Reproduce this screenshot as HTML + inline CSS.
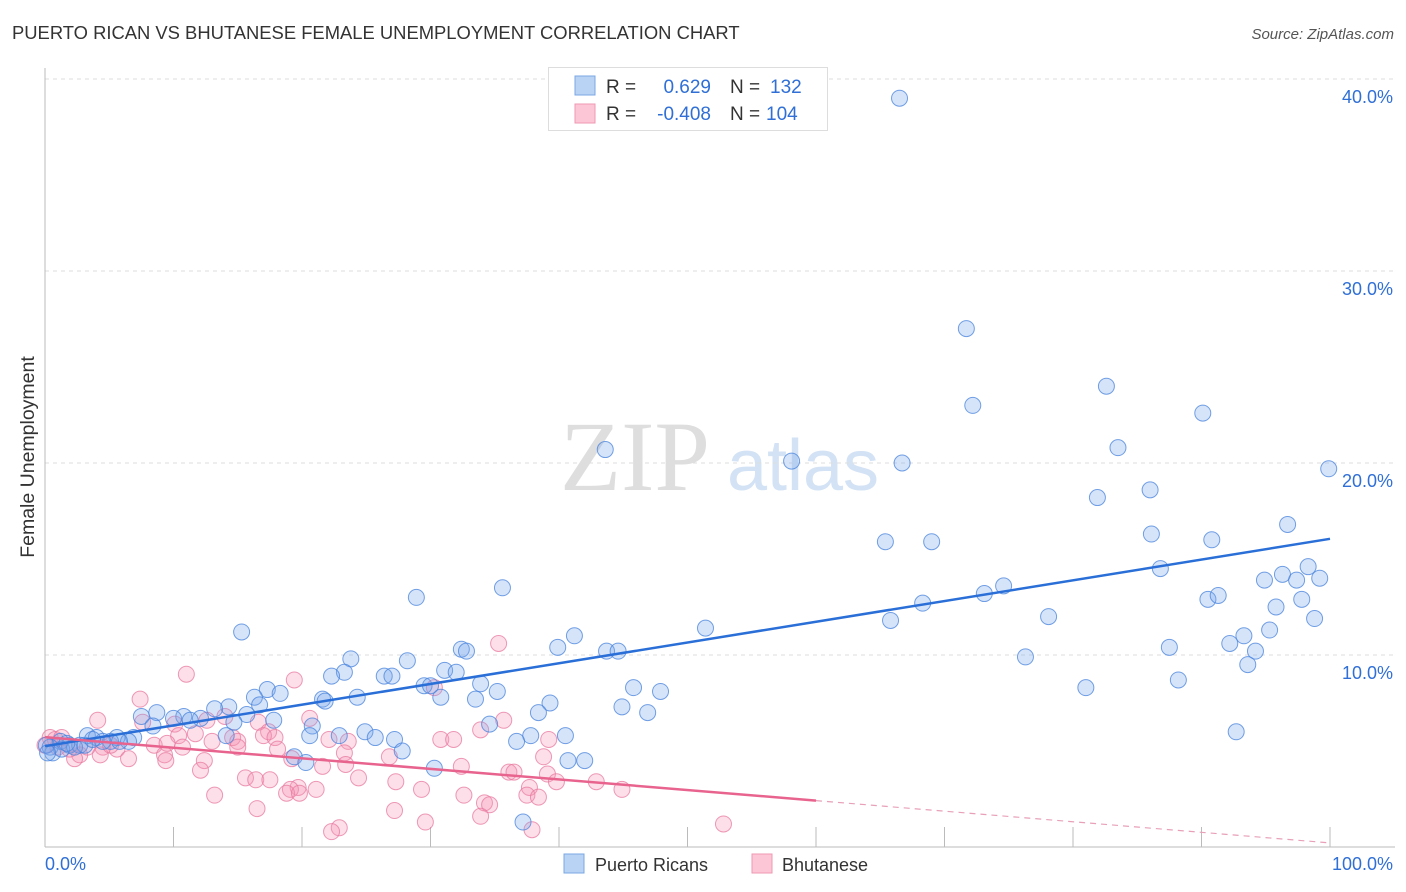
<!DOCTYPE html>
<html><head><meta charset="utf-8"><style>
body{margin:0;background:#fff;font-family:"Liberation Sans",sans-serif}
svg{display:block}
</style></head><body>
<svg id="chart" width="1406" height="892">
<text x="12" y="39" font-size="18.4" fill="#333">PUERTO RICAN VS BHUTANESE FEMALE UNEMPLOYMENT CORRELATION CHART</text>
<text x="1394" y="39" font-size="15" fill="#555" font-style="italic" text-anchor="end">Source: ZipAtlas.com</text>
<text x="0" y="0" transform="translate(34,457) rotate(-90)" font-size="19.5" fill="#333" text-anchor="middle">Female Unemployment</text>
<g>
<text x="635" y="490" font-size="100" fill="#dedede" font-family="Liberation Serif" text-anchor="middle">ZIP</text>
<text x="803" y="490" font-size="72" fill="#d3e2f4" text-anchor="middle">atlas</text>
</g>
<g id="grid"></g><g id="axes"></g><g id="pts"></g><g id="trend"></g>
<g>
<rect x="548.5" y="67.5" width="279" height="63" fill="#fff" stroke="#ddd"/>
<rect x="575" y="76" width="20" height="19" fill="#b9d3f5" stroke="#7aa7e4"/>
<rect x="575" y="104" width="20" height="19" fill="#fcc6d6" stroke="#ef98b3"/>
<text x="606" y="93" font-size="19" fill="#333">R =</text>
<text x="711" y="93" font-size="19" fill="#2f6fd6" text-anchor="end">0.629</text>
<text x="730" y="93" font-size="19" fill="#333">N =</text>
<text x="770" y="93" font-size="19" fill="#2f6fd6">132</text>
<text x="606" y="120" font-size="19" fill="#333">R =</text>
<text x="711" y="120" font-size="19" fill="#2f6fd6" text-anchor="end">-0.408</text>
<text x="730" y="120" font-size="19" fill="#333">N =</text>
<text x="766" y="120" font-size="19" fill="#2f6fd6">104</text>
</g>
<g>
<rect x="564" y="854" width="20" height="19" fill="#b9d3f5" stroke="#7aa7e4"/>
<text x="595" y="871" font-size="18" fill="#333">Puerto Ricans</text>
<rect x="752" y="854" width="20" height="19" fill="#fcc6d6" stroke="#ef98b3"/>
<text x="782" y="871" font-size="18" fill="#333">Bhutanese</text>
</g>
</svg>
<script>
const yTicks=[10,20,30,40];
const yTickLabels=["10.0%","20.0%","30.0%","40.0%"];
const xTickLabels=["0.0%","100.0%"];
const blueX=[66.5,71.7,72.2,82.6,90.1,83.5,43.6,58.1,66.7,99.9,86.0,81.9,96.7,86.1,65.4,69.0,90.8,86.8,98.3,96.3,94.9,97.4,99.2,74.6,73.1,90.5,91.3,97.8,68.3,95.8,78.1,65.8,98.8,95.3,93.3,92.2,94.2,87.5,76.3,93.6,88.2,81.0,92.7,35.6,28.9,51.4,41.2,15.3,39.9,43.7,44.6,32.4,32.8,23.8,28.2,31.1,32.0,23.3,26.4,27.0,22.3,33.9,29.5,30.0,45.8,17.3,18.3,30.8,35.2,47.9,24.3,21.6,16.3,33.5,21.8,39.3,14.3,13.2,16.7,44.9,46.9,38.4,15.7,8.7,10.8,10.0,7.5,17.8,12.1,11.3,14.7,20.8,34.6,8.4,3.3,5.6,4.0,6.9,14.1,20.6,22.9,24.9,25.7,27.2,37.8,40.5,36.7,27.8,19.4,20.3,40.7,42.0,30.3,37.2,1.2,1.9,0.4,2.7,0.6,5.1,6.5,4.5,1.3,2.3,3.1,3.7,5.8,1.7,0.1,0.2];
const blueY=[39.0,27.0,23.0,24.0,22.6,20.8,20.7,20.1,20.0,19.7,18.6,18.2,16.8,16.3,15.9,15.9,16.0,14.5,14.6,14.2,13.9,13.9,14.0,13.6,13.2,12.9,13.1,12.9,12.7,12.5,12.0,11.8,11.9,11.3,11.0,10.6,10.2,10.4,9.9,9.5,8.7,8.3,6.0,13.5,13.0,11.4,11.0,11.2,10.4,10.2,10.2,10.3,10.2,9.8,9.7,9.2,9.1,9.1,8.9,8.9,8.9,8.5,8.4,8.4,8.3,8.2,8.0,7.8,8.1,8.1,7.8,7.7,7.8,7.7,7.6,7.5,7.3,7.2,7.4,7.3,7.0,7.0,6.9,7.0,6.8,6.7,6.8,6.6,6.7,6.6,6.5,6.3,6.4,6.3,5.8,5.7,5.7,5.7,5.8,5.8,5.8,6.0,5.7,5.6,5.8,5.8,5.5,5.0,4.7,4.4,4.5,4.5,4.1,1.3,5.5,5.3,5.2,5.3,4.9,5.5,5.5,5.5,5.1,5.2,5.3,5.6,5.5,5.4,5.3,4.9];
const pinkX=[35.3,11.0,19.4,30.3,7.4,4.1,20.6,14.0,16.6,7.6,12.6,10.1,35.7,33.9,17.4,10.4,11.7,14.6,15.0,17.0,17.9,22.1,23.6,30.8,31.8,39.2,13.0,8.5,9.5,10.7,15.0,18.1,23.3,4.5,5.6,4.3,2.7,2.3,6.5,9.3,9.4,12.4,19.2,26.8,38.8,23.4,12.1,21.6,32.4,36.1,36.5,39.1,24.4,15.6,16.4,17.5,27.3,39.8,42.9,37.7,19.7,19.1,21.1,18.8,19.8,29.3,44.9,37.5,38.4,13.2,32.6,34.2,34.6,16.5,27.2,33.9,29.6,52.8,22.9,22.3,37.9,0.4,0.8,1.3,0,1.0,1.9,3.3,5.1];
const pinkY=[10.6,9.0,8.7,8.3,7.7,6.6,6.7,6.8,6.5,6.5,6.6,6.4,6.6,6.1,6.0,5.8,5.9,5.7,5.5,5.8,5.7,5.6,5.5,5.6,5.6,5.6,5.5,5.3,5.4,5.2,5.2,5.1,4.9,5.2,5.1,4.8,4.8,4.6,4.6,4.8,4.5,4.5,4.6,4.7,4.7,4.3,4.0,4.2,4.2,3.9,3.9,3.8,3.6,3.6,3.5,3.5,3.4,3.4,3.4,3.1,3.1,3.0,3.0,2.8,2.8,3.0,3.0,2.7,2.6,2.7,2.7,2.3,2.2,2.0,1.9,1.6,1.3,1.2,1.0,0.8,0.9,5.7,5.6,5.7,5.3,5.2,5.1,5.2,5.3];
const NS="http://www.w3.org/2000/svg";
const X0=45,X1=1330,Y0=847,PY=19.2;
const sx=v=>X0+(X1-X0)*v/100, sy=v=>Y0-v*PY;
function mk(tag,attrs,parent){const e=document.createElementNS(NS,tag);for(const k in attrs)e.setAttribute(k,attrs[k]);parent.appendChild(e);return e;}
const grid=document.getElementById('grid'),axes=document.getElementById('axes');
yTicks.forEach((t,i)=>{
 const l=mk('line',{x1:X0,x2:1395,y1:sy(t),y2:sy(t),stroke:'#ddd','stroke-dasharray':'4,4'},grid);
 
 
 const tx=mk('text',{x:1393,y:sy(t)+24,'font-size':18,fill:'#2f6fd6','text-anchor':'end'},grid);
 tx.textContent=yTickLabels[i];
 
 
});
const xa=mk('line',{x1:X0,x2:X1+65,y1:Y0,y2:Y0,stroke:'#bbb'},axes);


const ya=mk('line',{x1:X0,x2:X0,y1:68,y2:Y0,stroke:'#bbb'},axes);


for(let i=1;i<=10;i++){const t=mk('line',{x1:sx(i*10),x2:sx(i*10),y1:Y0-20,y2:Y0,stroke:'#bbb'},axes);
 
 }
const xl0=mk('text',{x:45,y:870,'font-size':18,fill:'#2f6fd6'},axes);xl0.textContent=xTickLabels[0];


const xl1=mk('text',{x:1393,y:870,'font-size':18,fill:'#2f6fd6','text-anchor':'end'},axes);xl1.textContent=xTickLabels[1];


const pts=document.getElementById('pts');
pinkX.forEach((x,i)=>{const c=mk('circle',{cx:sx(x),cy:sy(pinkY[i]),r:8,fill:'rgba(244,150,180,0.3)',stroke:'rgba(232,120,160,0.75)','stroke-width':1},pts);
 
 });
blueX.forEach((x,i)=>{const c=mk('circle',{cx:sx(x),cy:sy(blueY[i]),r:8,fill:'rgba(120,165,235,0.3)',stroke:'rgba(70,130,220,0.75)','stroke-width':1},pts);
 
 });
function reg(xs,ys){const n=xs.length;let mx=0,my=0;xs.forEach((x,i)=>{mx+=x;my+=ys[i]});mx/=n;my/=n;let sxy=0,sxx=0;xs.forEach((x,i)=>{sxy+=(x-mx)*(ys[i]-my);sxx+=(x-mx)**2});const b=sxy/sxx;return [my-b*mx,b];}
const tr=document.getElementById('trend');
const [ba,bb]=reg(blueX,blueY);
const bl=mk('line',{x1:sx(0),y1:sy(ba),x2:sx(100),y2:sy(ba+bb*100),stroke:'#2a6fd8','stroke-width':2.5},tr);


const [pa,pb]=reg(pinkX,pinkY);
const pl=mk('line',{x1:sx(0),y1:sy(pa),x2:sx(60),y2:sy(pa+pb*60),stroke:'#e8648f','stroke-width':2.5},tr);


const pd=mk('line',{x1:sx(60),y1:sy(pa+pb*60),x2:sx(100),y2:sy(pa+pb*100),stroke:'#e8a0b8','stroke-width':1.2,'stroke-dasharray':'6,5'},tr);


</script>
</body></html>
